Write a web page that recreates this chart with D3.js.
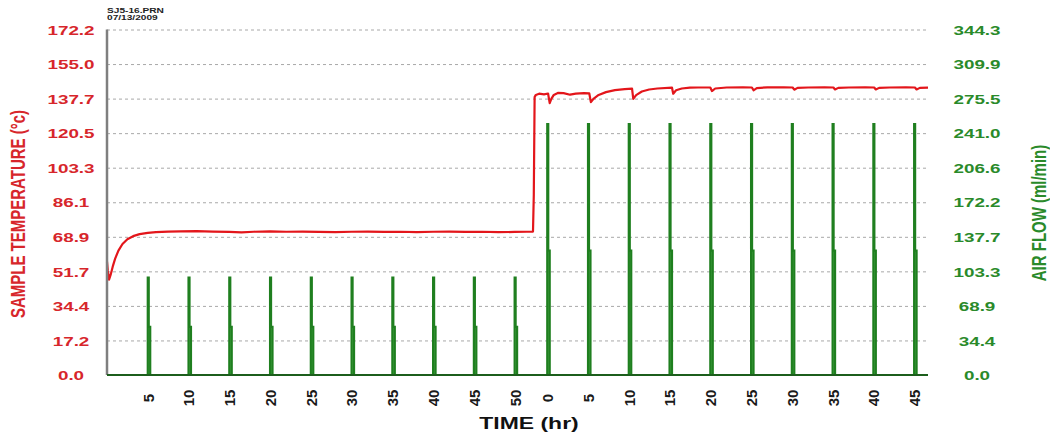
<!DOCTYPE html>
<html>
<head>
<meta charset="utf-8">
<script src="https://cdn.jsdelivr.net/npm/d3@7"></script>
<style>
  html, body { margin: 0; padding: 0; background: #ffffff; }
  svg { display: block; }
  text { font-family: "Liberation Sans", Arial, sans-serif; font-weight: bold; }
</style>
</head>
<body>
<svg id="chart" width="1050" height="436"></svg>
<script>
// Run header
const headerLines = ["SJ5-16.PRN", "07/13/2009"];

// Left axis: sample temperature (°C)
const tempTicks = [0, 17.22, 34.44, 51.66, 68.88, 86.1, 103.32, 120.54, 137.76, 154.98, 172.2];
const tempTickLabels = ["0.0", "17.2", "34.4", "51.7", "68.9", "86.1", "103.3", "120.5", "137.7", "155.0", "172.2"];

// Right axis: air flow (ml/min)
const flowTicks = [0, 34.43, 68.86, 103.29, 137.72, 172.15, 206.58, 241.01, 275.44, 309.87, 344.3];
const flowTickLabels = ["0.0", "34.4", "68.9", "103.3", "137.7", "172.2", "206.6", "241.0", "275.5", "309.9", "344.3"];

// Time axis: elapsed hours, two runs back to back (second run restarts at 0)
const timeTickHours = [5, 10, 15, 20, 25, 30, 35, 40, 45, 50, 54, 59, 64, 69, 74, 79, 84, 89, 94, 99];
const timeTickLabels = ["5", "10", "15", "20", "25", "30", "35", "40", "45", "50", "0", "5", "10", "15", "20", "25", "30", "35", "40", "45"];

// Sample temperature trace
const tempHours = [
  0, 0.1, 0.25, 0.45, 0.7, 1.0, 1.4, 1.9, 2.5, 3.2,
  4.0, 5.0, 6.0, 7.5, 9, 11, 13, 15, 16.5, 18,
  20, 22, 24, 26, 28, 30, 32, 34, 36, 38,
  40, 42, 44, 46, 48, 50, 51.5, 52.25, 52.35, 52.45,
  52.6, 53.0, 53.6, 54.1, 54.3, 54.5, 54.8, 55.3, 56.0, 56.8,
  57.5, 58.5, 59.15, 59.35, 59.7, 60.3, 61.2, 62.3, 63.5, 64.4,
  64.55, 64.9, 65.6, 66.5, 67.5, 69.3, 69.45, 69.8, 70.5, 71.5,
  72.5, 74.0, 74.2, 74.6, 76, 78, 79.1, 79.3, 79.7, 81,
  83, 84.1, 84.3, 84.7, 86, 88, 89.1, 89.3, 89.7, 91,
  93, 94.1, 94.3, 94.7, 96, 98, 99.1, 99.3, 99.7, 100.7
];
const tempValues = [
  56.5, 52.0, 47.5, 50.0, 54.0, 58.0, 62.0, 65.3, 67.7, 69.2,
  70.2, 70.8, 71.2, 71.5, 71.6, 71.7, 71.5, 71.3, 71.1, 71.4,
  71.6, 71.4, 71.5, 71.3, 71.2, 71.4, 71.5, 71.3, 71.4, 71.2,
  71.4, 71.5, 71.3, 71.4, 71.2, 71.3, 71.4, 71.5, 90.0, 138.5,
  139.6, 140.2, 139.9, 140.3, 135.5, 137.6, 139.6, 140.6, 140.5, 139.7,
  140.2, 140.5, 140.4, 136.0, 137.8, 139.6, 141.0, 142.0, 142.5, 142.7,
  137.6, 139.5, 141.3, 142.3, 142.8, 143.2, 140.2, 141.9, 142.8, 143.2,
  143.3, 143.3, 141.5, 142.8, 143.3, 143.4, 143.3, 141.9, 143.0, 143.4,
  143.4, 143.3, 142.2, 143.1, 143.3, 143.4, 143.3, 142.3, 143.1, 143.3,
  143.4, 143.3, 142.3, 143.1, 143.3, 143.4, 143.3, 142.3, 143.1, 143.2
];

// Air flow pulses: start hour, peak flow, trailing step flow
const pulseHours = [5, 10, 15, 20, 25, 30, 35, 40, 45, 50, 54, 59, 64, 69, 74, 79, 84, 89, 94, 99];
const pulsePeak  = [97, 97, 97, 97, 97, 97, 97, 97, 97, 97, 250, 250, 250, 250, 250, 250, 250, 250, 250, 250];
const pulseStep  = [48, 48, 48, 48, 48, 48, 48, 48, 48, 48, 124, 124, 124, 124, 124, 124, 124, 124, 124, 124];

const RED = "#e3161b";
const RED_TEXT = "#d7262b";
const GREEN = "#1f7f1f";
const GREEN_TEXT = "#2a8a2a";

const svg = d3.select("#chart");
const plotLeft = 107, plotRight = 928, plotTop = 29.5, plotBottom = 375;

const x = d3.scaleLinear().domain([0, 100.7]).range([plotLeft, plotRight]);
const yT = d3.scaleLinear().domain([0, 172.2]).range([plotBottom, plotTop]);
const yF = d3.scaleLinear().domain([0, 344.3]).range([plotBottom, plotTop]);

// Dashed horizontal grid
svg.append("g")
  .attr("transform", `translate(${plotLeft},0)`)
  .call(d3.axisLeft(yT).tickValues(tempTicks.slice(1)).tickSize(-(plotRight - plotLeft)).tickFormat(""))
  .call(g => g.select(".domain").remove())
  .call(g => g.selectAll("line").attr("stroke", "#a8a8a8").attr("stroke-width", 1).attr("stroke-dasharray", "3,3"));

// Air flow pulses
const flowPts = [];
pulseHours.forEach((h, i) => {
  flowPts.push([h - 0.05, 0]);
  flowPts.push([h, pulsePeak[i]]);
  flowPts.push([h + 0.12, pulseStep[i]]);
  flowPts.push([h + 0.3, 0]);
});
svg.append("path")
  .datum(flowPts)
  .attr("fill", "#5cb85c")
  .attr("stroke", GREEN)
  .attr("stroke-width", 2.2)
  .attr("d", d3.line().x(d => x(d[0])).y(d => yF(d[1])).curve(d3.curveStepAfter));

// Temperature trace
svg.append("path")
  .datum(tempHours.map((h, i) => [h, tempValues[i]]))
  .attr("fill", "none")
  .attr("stroke", RED)
  .attr("stroke-width", 2.2)
  .attr("stroke-linejoin", "round")
  .attr("d", d3.line().x(d => x(d[0])).y(d => yT(d[1])));

// Axis lines
svg.append("line").attr("x1", plotLeft).attr("x2", plotLeft).attr("y1", plotTop).attr("y2", plotBottom)
  .attr("stroke", "#7f7f7f").attr("stroke-width", 2.5);
svg.append("line").attr("x1", plotLeft).attr("x2", plotRight).attr("y1", plotBottom).attr("y2", plotBottom)
  .attr("stroke", "#1c5e1c").attr("stroke-width", 2);

// Left tick labels
svg.append("g")
  .attr("transform", `translate(${plotLeft},0)`)
  .call(d3.axisLeft(yT).tickValues(tempTicks).tickSize(0).tickFormat((d, i) => tempTickLabels[i]))
  .call(g => g.select(".domain").remove())
  .call(g => g.selectAll("text")
    .attr("x", 0).attr("dy", "0.36em")
    .attr("text-anchor", "middle")
    .attr("transform", "translate(-36,0) scale(1.45,1)")
    .attr("fill", RED_TEXT)
    .style("font-size", "13px").style("font-family", "'Liberation Sans', Arial, sans-serif").style("font-weight", "bold"));

// Right tick labels
svg.append("g")
  .attr("transform", `translate(${plotRight},0)`)
  .call(d3.axisRight(yF).tickValues(flowTicks).tickSize(0).tickFormat((d, i) => flowTickLabels[i]))
  .call(g => g.select(".domain").remove())
  .call(g => g.selectAll("text")
    .attr("x", 0).attr("dy", "0.36em")
    .attr("text-anchor", "middle")
    .attr("transform", "translate(49,0) scale(1.45,1)")
    .attr("fill", GREEN_TEXT)
    .style("font-size", "13px").style("font-family", "'Liberation Sans', Arial, sans-serif").style("font-weight", "bold"));

// Time tick labels, rotated
svg.append("g")
  .attr("transform", `translate(0,${plotBottom})`)
  .call(d3.axisBottom(x).tickValues(timeTickHours).tickSize(0).tickFormat((d, i) => timeTickLabels[i]))
  .call(g => g.select(".domain").remove())
  .call(g => g.selectAll("text")
    .attr("x", -23).attr("y", 0).attr("dy", "0.36em")
    .attr("text-anchor", "middle")
    .attr("transform", "rotate(-90)")
    .attr("fill", "#1a1a1a")
    .style("font-size", "15px").style("font-family", "'Liberation Sans', Arial, sans-serif").style("font-weight", "bold"));

// Axis titles
svg.append("text")
  .attr("transform", "translate(529,429) scale(1.35,1)")
  .attr("text-anchor", "middle")
  .attr("fill", "#111")
  .style("font-size", "17px")
  .text("TIME (hr)");

svg.append("text")
  .attr("transform", "translate(25,214) scale(1.3,1) rotate(-90)")
  .attr("text-anchor", "middle")
  .attr("fill", RED_TEXT)
  .style("font-size", "15px")
  .text("SAMPLE TEMPERATURE (°c)");

svg.append("text")
  .attr("transform", "translate(1046,213) scale(1.3,1) rotate(-90)")
  .attr("text-anchor", "middle")
  .attr("fill", GREEN_TEXT)
  .style("font-size", "15px")
  .text("AIR FLOW (ml/min)");

// Run header
svg.selectAll(".hdr")
  .data(headerLines)
  .join("text")
  .attr("class", "hdr")
  .attr("transform", (d, i) => `translate(107,${13 + i * 7}) scale(1.45,1)`)
  .attr("fill", "#222")
  .style("font-size", "7px")
  .text(d => d);
</script>
</body>
</html>
